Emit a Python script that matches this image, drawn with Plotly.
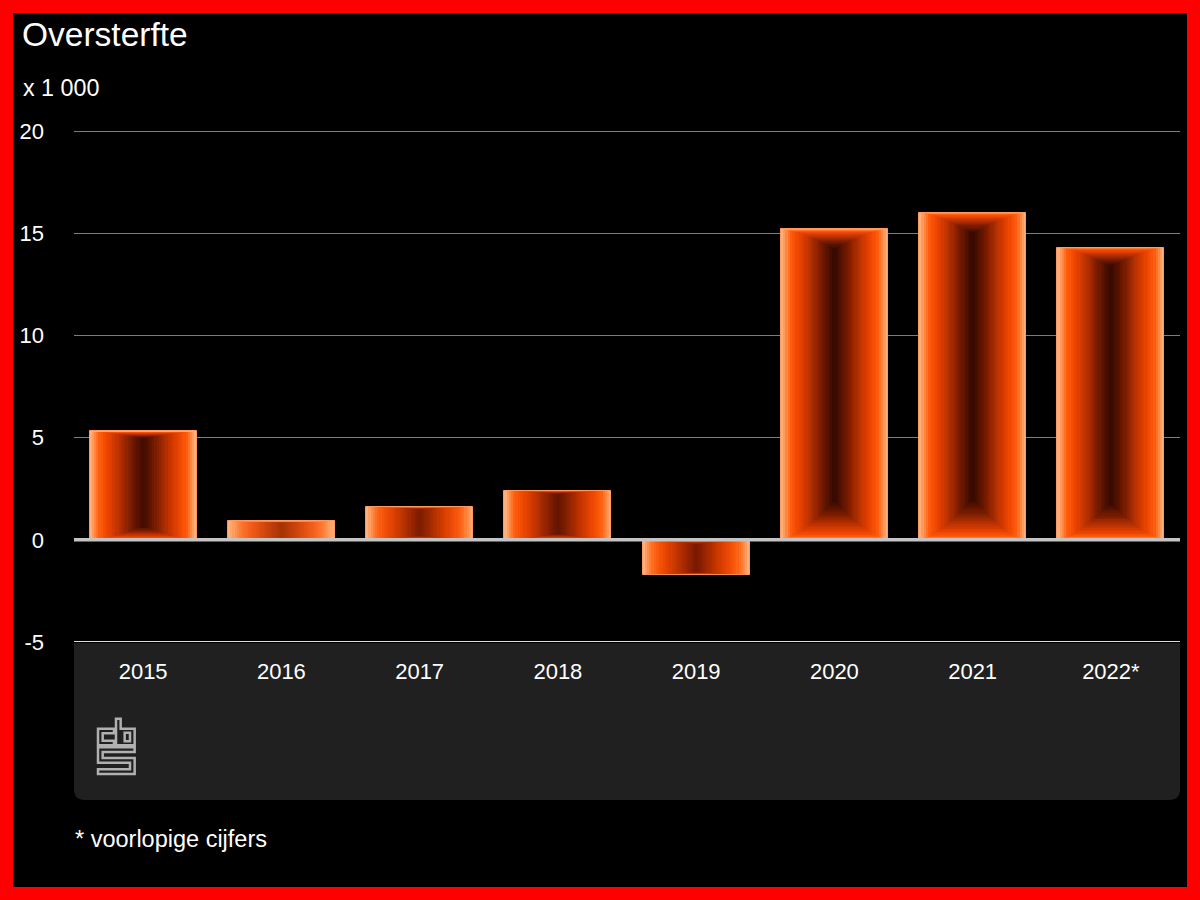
import plotly.graph_objects as go

# ---- data ----
years = ["2015", "2016", "2017", "2018", "2019", "2020", "2021", "2022*"]
excess = [5.3, 0.9, 1.6, 2.4, -1.7, 15.2, 16.0, 14.3]   # x 1 000
y_ticks = [-5, 0, 5, 10, 15, 20]
y_tick_labels = ["-5", "0", "5", "10", "15", "20"]

title_text = "Oversterfte"
unit_text = "x 1 000"
footnote_text = "* voorlopige cijfers"

# ---- geometry helpers (pixel -> paper) ----
W, H = 1200, 900
L, R, T, B = 74, 1180, 129, 642
Y_MIN, Y_MAX = -5, 20.1


def px(x):
    return (x - L) / (R - L)


def py(y):
    return (B - y) / (B - T)


FONT = "Arial, Liberation Sans, Helvetica, sans-serif"

fig = go.Figure()

# ---- layered bars imitating the orange glow texture (outer -> inner) ----
stops = [
    (0.00, (255, 176, 122)),
    (0.08, (255, 138, 69)),
    (0.18, (255, 90, 10)),
    (0.35, (232, 66, 0)),
    (0.55, (184, 48, 0)),
    (0.75, (122, 28, 0)),
    (1.00, (58, 10, 0)),
]


def colour_at(t):
    for (t0, c0), (t1, c1) in zip(stops[:-1], stops[1:]):
        if t0 <= t <= t1:
            f = (t - t0) / (t1 - t0) if t1 > t0 else 0
            c = [round(a + (b - a) * f) for a, b in zip(c0, c1)]
            return "rgb({},{},{})".format(*c)
    return "rgb({},{},{})".format(*stops[-1][1])


N_LAYERS = 24
BAR_W = 0.775
for k in range(N_LAYERS):
    t = k / (N_LAYERS - 1)
    w = BAR_W * (1 - k / N_LAYERS)
    bi = 0.12 * t ** 1.5
    ti = 0.06 * t ** 1.5
    s = 1.5 + 8 * t
    bases = [v * bi for v in excess]
    heights = [v * (1 - bi - ti) for v in excess]
    ops = [1.0 if k == 0 else min(1.0, (abs(v) / s) ** 1.3) for v in excess]
    fig.add_trace(go.Bar(
        x=years,
        y=heights,
        base=bases,
        width=w,
        marker=dict(
            color=colour_at(t),
            opacity=ops,
            line=dict(color="#ff9a62" if k == 0 else "rgba(0,0,0,0)",
                      width=1 if k == 0 else 0),
        ),
        hoverinfo="skip" if k > 0 else "x+y",
        showlegend=False,
    ))

# ---- shapes ----
shapes = []
# black inner area (red frame via paper background)
shapes.append(dict(type="rect", xref="paper", yref="paper",
                   x0=px(13), x1=px(1187), y0=py(887), y1=py(13),
                   fillcolor="#000000", line=dict(width=0), layer="below"))
# dark rounded bottom panel
x0, x1, y0, y1, r = 74, 1180, 643, 800, 11
rx = r / (R - L)
ry = r / (B - T)
path = (f"M {px(x0)},{py(y0)} L {px(x1)},{py(y0)} L {px(x1)},{py(y1) + ry} "
        f"Q {px(x1)},{py(y1)} {px(x1) - rx},{py(y1)} L {px(x0) + rx},{py(y1)} "
        f"Q {px(x0)},{py(y1)} {px(x0)},{py(y1) + ry} Z")
shapes.append(dict(type="path", xref="paper", yref="paper", path=path,
                   fillcolor="#202020", line=dict(width=0), layer="below"))
# zero line and bottom (-5) line above bars
shapes.append(dict(type="line", xref="paper", yref="y", x0=0, x1=1, y0=0, y1=0,
                   line=dict(color="#c4c4c4", width=3.5), layer="above"))
shapes.append(dict(type="line", xref="paper", yref="y", x0=0, x1=1, y0=-5, y1=-5,
                   line=dict(color="#dcdcdc", width=2), layer="above"))

# CBS logo (outline strokes), pixel coords from the reference
ox, oy = 92, 712


def lp(pts):
    s = ""
    for k, (a, b) in enumerate(pts):
        X = px(ox + a / 3)
        Y = py(oy + b / 3)
        s += ("M " if k == 0 else " L ") + f"{X},{Y}"
    return s + " Z"


logo_c = [(66, 50), (18, 50), (18, 100), (66, 100), (66, 86), (32, 86), (32, 64), (66, 64)]
logo_b = [(72, 20), (86, 20), (86, 50), (128, 50), (128, 100), (72, 100)]
logo_b_in = [(98, 62), (114, 62), (114, 88), (98, 88)]
logo_s = [(18, 106), (128, 106), (128, 120), (32, 120), (32, 138), (128, 138),
          (128, 186), (18, 186), (18, 172), (114, 172), (114, 152), (18, 152)]
for pts in (logo_c, logo_b, logo_b_in, logo_s):
    shapes.append(dict(type="path", xref="paper", yref="paper", path=lp(pts),
                       line=dict(color="#b0b0b0", width=2.5), fillcolor="rgba(0,0,0,0)",
                       layer="above"))

# ---- annotations ----
annotations = [
    dict(text=title_text, xref="paper", yref="paper", x=px(20), y=py(35),
         xanchor="left", yanchor="middle", showarrow=False,
         font=dict(family=FONT, size=33.5, color="#ffffff")),
    dict(text=unit_text, xref="paper", yref="paper", x=px(21), y=py(88),
         xanchor="left", yanchor="middle", showarrow=False,
         font=dict(family=FONT, size=23.3, color="#ffffff")),
    dict(text=footnote_text, xref="paper", yref="paper", x=px(73), y=py(839),
         xanchor="left", yanchor="middle", showarrow=False,
         font=dict(family=FONT, size=23.5, color="#ffffff")),
]

fig.update_layout(
    width=W, height=H,
    margin=dict(l=L, r=W - R, t=T, b=H - B, pad=0),
    paper_bgcolor="#ff0000",
    plot_bgcolor="rgba(0,0,0,0)",
    barmode="overlay",
    bargap=0,
    showlegend=False,
    shapes=shapes,
    annotations=annotations,
    font=dict(family=FONT, color="#ffffff"),
    xaxis=dict(
        type="category",
        categoryorder="array", categoryarray=years,
        showgrid=False, zeroline=False, showline=False,
        ticks="", ticklabelstandoff=14,
        tickfont=dict(family=FONT, size=22, color="#ffffff"),
        fixedrange=True,
    ),
    yaxis=dict(
        range=[Y_MIN, Y_MAX],
        tickvals=y_ticks, ticktext=y_tick_labels,
        showgrid=True, gridcolor="#7c7c7c", gridwidth=1,
        zeroline=False, showline=False,
        ticks="", ticklabelstandoff=29,
        tickfont=dict(family=FONT, size=22, color="#ffffff"),
        fixedrange=True,
    ),
)

fig.write_html(
    "out.html",
    config={"displayModeBar": False},
    post_script="document.body.style.margin='0';document.body.style.background='#ff0000';",
)
